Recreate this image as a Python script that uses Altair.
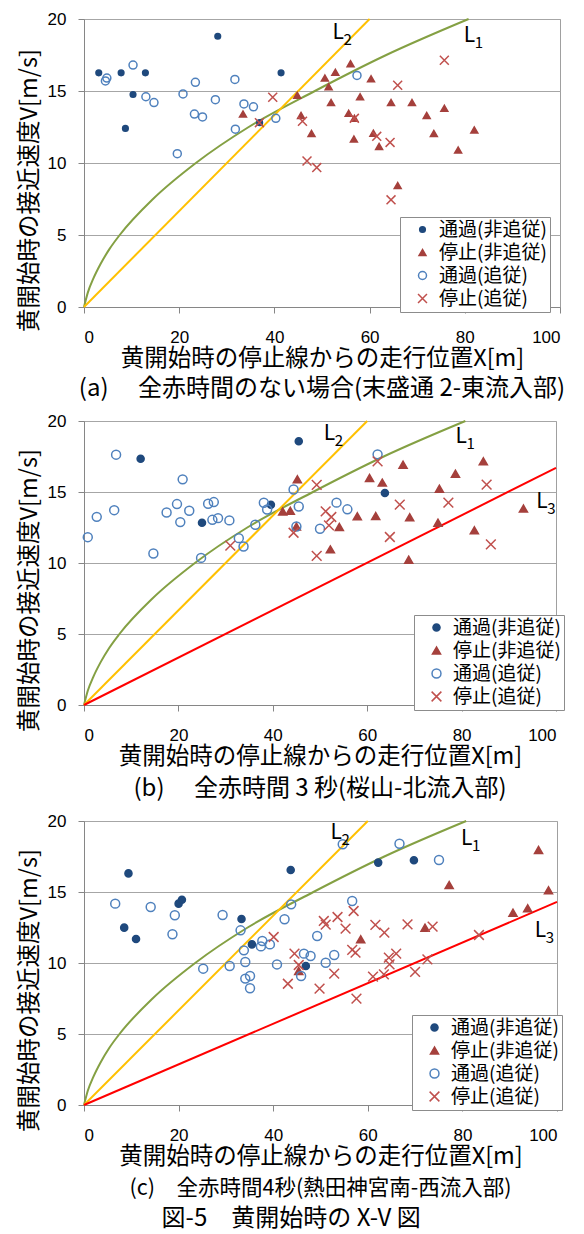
import altair as alt
import pandas as pd

FONT = "Noto Sans CJK JP"
NUM_FONT = "Liberation Sans"
CATS = ["通過(非追従)", "停止(非追従)", "通過(追従)", "停止(追従)"]

# ---------------- Panel (a) ----------------
a_pass_solo_x = [3.1, 7.8, 12.9, 10.3, 8.7, 28.1, 41.4, 36.9]
a_pass_solo_v = [16.26, 16.26, 16.26, 14.76, 12.4, 18.8, 16.26, 12.8]
a_stop_solo_x = [33.4, 44.8, 45.6, 47.8, 56.0, 52.8, 50.6, 51.4, 60.3, 58.0, 51.9, 55.6,
                 56.8, 64.5, 68.9, 72.0, 75.7, 82.0, 73.5, 78.6, 56.7, 60.8, 62.0, 65.9]
a_stop_solo_v = [13.4, 14.7, 13.3, 12.05, 16.9, 16.3, 15.9, 15.3, 15.85, 14.6, 14.2, 13.45,
                 13.1, 14.2, 14.2, 13.3, 13.8, 12.3, 12.05, 10.9, 11.66, 12.07, 11.15, 8.43]
a_pass_follow_x = [4.8, 4.5, 10.3, 13.0, 14.7, 19.6, 20.8, 23.4, 23.2, 24.9, 27.6, 31.7,
                   31.8, 33.6, 35.6, 40.3, 57.35]
a_pass_follow_v = [15.9, 15.7, 16.8, 14.6, 14.2, 10.65, 14.8, 15.6, 13.4, 13.2, 14.4, 15.8,
                   12.35, 14.1, 13.9, 13.1, 16.08]
a_stop_follow_x = [39.65, 36.85, 45.9, 46.85, 48.9, 75.7, 65.9, 56.8, 61.5, 64.3, 64.5]
a_stop_follow_v = [14.57, 12.8, 12.9, 10.14, 9.68, 17.14, 15.4, 13.1, 11.85, 11.43, 7.44]

# ---------------- Panel (b) ----------------
b_pass_solo_x = [12.0, 45.5, 25.0, 39.6, 63.75]
b_pass_solo_v = [17.34, 18.57, 12.83, 14.1, 14.93]
b_stop_solo_x = [45.2, 42.1, 43.7, 45.0, 67.6, 84.6, 78.7, 60.5, 63.2, 75.3, 93.1, 57.9,
                 61.8, 69.0, 75.0, 54.1, 82.7, 52.2, 68.8]
b_stop_solo_v = [15.89, 13.63, 13.68, 12.57, 16.92, 17.16, 16.29, 15.99, 15.66, 15.23, 13.83, 13.29,
                 13.31, 13.22, 12.84, 12.54, 12.3, 10.96, 10.23]
b_pass_follow_x = [6.8, 0.8, 2.7, 6.4, 14.7, 20.9, 17.5, 19.7, 20.4, 22.3, 24.8, 26.3, 27.5, 27.2,
                   28.4, 30.8, 32.8, 33.8, 36.3, 38.1, 38.8, 44.4, 45.5, 45.0, 50.0, 62.2, 53.5, 55.8]
b_pass_follow_v = [17.63, 11.82, 13.25, 13.72, 10.67, 15.89, 13.56, 14.15, 12.88, 13.68, 10.36, 14.17,
                   14.29, 13.04, 13.16, 13.0, 11.75, 11.16, 12.69, 14.24, 13.77, 15.18, 13.98, 12.57,
                   12.41, 17.65, 14.25, 13.78]
b_stop_follow_x = [31.0, 44.4, 49.3, 49.3, 62.2, 85.3, 66.9, 77.2, 51.2, 52.4, 51.9, 64.8, 86.2]
b_stop_follow_v = [11.23, 12.13, 15.5, 10.5, 17.16, 15.52, 14.11, 14.25, 13.64, 13.24, 12.65, 11.83, 11.31]

# ---------------- Panel (c) ----------------
c_pass_solo_x = [9.4, 8.5, 11.0, 20.0, 20.7, 33.3, 35.5, 43.7, 46.9, 62.2, 69.75]
c_pass_solo_v = [16.31, 12.49, 11.69, 14.18, 14.46, 13.1, 11.31, 16.55, 9.79, 17.07, 17.23]
c_stop_solo_x = [96.1, 77.2, 98.2, 90.7, 93.8, 72.1, 58.5, 45.4]
c_stop_solo_v = [17.96, 15.49, 15.12, 13.54, 13.85, 12.49, 11.67, 9.44]
c_pass_follow_x = [6.6, 14.1, 19.2, 18.7, 29.3, 25.2, 30.8, 33.1, 33.8, 34.1, 34.1, 35.1, 35.1, 37.7,
                   37.4, 39.3, 40.8, 42.4, 43.8, 46.5, 47.9, 45.9, 49.3, 51.1, 54.7, 66.7, 75.05,
                   56.7, 52.9]
c_pass_follow_v = [14.18, 13.94, 13.36, 12.02, 13.38, 9.6, 9.79, 12.3, 10.89, 10.07, 8.9, 9.08, 8.22,
                   11.55, 11.17, 11.31, 9.9, 13.08, 14.13, 10.66, 10.49, 9.08, 11.9, 10.02, 18.36,
                   18.4, 17.25, 14.37, 10.56]
c_stop_follow_x = [40.1, 44.5, 45.4, 43.1, 49.8, 50.7, 51.1, 53.6, 57.0, 55.3, 61.6, 63.5, 68.4, 73.7,
                   83.5, 56.7, 57.4, 64.45, 66.0, 64.6, 72.6, 52.9, 61.1, 63.4, 70.0, 57.6]
c_stop_follow_v = [11.83, 10.66, 9.86, 8.54, 8.19, 12.96, 12.7, 13.24, 13.66, 12.42, 12.68, 12.14, 12.72,
                   12.56, 11.97, 10.92, 10.73, 10.38, 10.66, 9.9, 10.26, 9.25, 9.04, 9.2, 9.37, 7.49]

# ---------------- Reference curves ----------------
L1_v = [0, 1, 2, 3, 4, 5, 7.5, 10, 12.5, 15, 17.5, 20]
L1_x = [0, 0.8, 2.0, 3.5, 5.3, 7.5, 14.5, 23.5, 34.6, 48.5, 63.5, 80.8]
L2_x = [0, 60]
L2_v = [0, 20]
L3b_x = [0, 100]
L3b_v = [0, 16.7]
L3c_x = [0, 100]
L3c_v = [0, 14.3]

# label anchors (subscript, X, V) for L1, L2, L3
a_labels = [("1", 79.8, 18.85), ("2", 52.2, 19.03)]
b_labels = [("1", 78.7, 18.87), ("2", 50.8, 19.1), ("3", 95.8, 14.3)]
c_labels = [("1", 79.7, 18.7), ("2", 52.1, 19.17), ("3", 95.3, 12.25)]

captions = ["(a)　 全赤時間のない場合(末盛通 2-東流入部)",
            "(b)　 全赤時間 3 秒(桜山-北流入部)",
            "(c)　全赤時間4秒(熱田神宮南-西流入部)"]
caption_sizes = [24, 24, 21.5]
caption_offsets = [7, 9, 10]
fig_title = "図-5　黄開始時の X-V 図"

COL_GREEN = "#84A043"
COL_YELLOW = "#FFC000"
COL_RED = "#FF0000"
CROSS = "M-1,-1L1,1M-1,1L1,-1"


def make_df(series):
    rows = []
    for cat, (xs, vs) in zip(CATS, series):
        for x, v in zip(xs, vs):
            rows.append({"X": x, "V": v, "cat": cat})
    return pd.DataFrame(rows)


def panel(series, lines, labels, w, h, leg_x, leg_y, sizes, caption, cap_size, cap_off):
    xs = alt.Scale(domain=[0, 100], nice=False)
    ys = alt.Scale(domain=[0, 20], nice=False)
    xaxis = alt.Axis(values=[0, 20, 40, 60, 80, 100], grid=False, tickSize=6, labelPadding=16,
                     title="黄開始時の停止線からの走行位置X[m]", titlePadding=1)
    yaxis = alt.Axis(values=[0, 5, 10, 15, 20], grid=True, tickSize=6, labelPadding=12,
                     title="黄開始時の接近速度V[m/s]", titlePadding=6, titleY=h / 2 + 27)

    layers = []
    first = True
    for lx, lv, col in lines:
        ldf = pd.DataFrame({"X": lx, "V": lv})
        enc_x = alt.X("X:Q", scale=xs, axis=xaxis) if first else alt.X("X:Q", scale=xs)
        enc_y = alt.Y("V:Q", scale=ys, axis=yaxis) if first else alt.Y("V:Q", scale=ys)
        first = False
        layers.append(alt.Chart(ldf).mark_line(color=col, strokeWidth=2, interpolate="monotone")
                      .encode(x=enc_x, y=enc_y))

    df = make_df(series)
    leg = alt.Legend(title=None, orient="none", legendX=leg_x, legendY=leg_y)
    pts = alt.Chart(df).mark_point(opacity=1, strokeWidth=1.5).encode(
        x=alt.X("X:Q", scale=xs),
        y=alt.Y("V:Q", scale=ys),
        shape=alt.Shape("cat:N", scale=alt.Scale(domain=CATS, range=["circle", "triangle-up", "circle", CROSS]), legend=leg),
        fill=alt.Fill("cat:N", scale=alt.Scale(domain=CATS, range=["#1F497D", "#A5403C", "transparent", "transparent"]), legend=leg),
        stroke=alt.Stroke("cat:N", scale=alt.Scale(domain=CATS, range=["#1F497D", "#A5403C", "#4F81BD", "#C0504D"]), legend=leg),
        size=alt.Size("cat:N", scale=alt.Scale(domain=CATS, range=sizes), legend=leg),
        order=alt.Order("ord:Q"),
    ).transform_calculate(ord="indexof(%s, datum.cat)" % str(CATS).replace("'", '"'))
    layers.append(pts)

    ldf = pd.DataFrame([{"sub": s, "X": x, "V": v} for s, x, v in labels])
    lbl = alt.Chart(ldf).mark_text(text="L", align="left", baseline="middle", fontSize=21,
                                   font=FONT, color="black").encode(
        x=alt.X("X:Q", scale=xs), y=alt.Y("V:Q", scale=ys))
    sub = alt.Chart(ldf).mark_text(align="left", baseline="middle", fontSize=15, dx=11, dy=7,
                                   font=FONT, color="black").encode(
        x=alt.X("X:Q", scale=xs), y=alt.Y("V:Q", scale=ys), text="sub:N")
    layers += [lbl, sub]

    return alt.layer(*layers).properties(
        width=w, height=h,
        title=alt.TitleParams(caption, orient="bottom", anchor="middle", fontSize=cap_size,
                              font=FONT, fontWeight="normal", offset=cap_off, color="black"),
    )


pa = panel([(a_pass_solo_x, a_pass_solo_v), (a_stop_solo_x, a_stop_solo_v),
            (a_pass_follow_x, a_pass_follow_v), (a_stop_follow_x, a_stop_follow_v)],
           [(L1_x, L1_v, COL_GREEN), (L2_x, L2_v, COL_YELLOW)],
           a_labels, 476, 288, 316, 198, [32, 80, 30, 60], captions[0],
           caption_sizes[0], caption_offsets[0])
pb = panel([(b_pass_solo_x, b_pass_solo_v), (b_stop_solo_x, b_stop_solo_v),
            (b_pass_follow_x, b_pass_follow_v), (b_stop_follow_x, b_stop_follow_v)],
           [(L1_x, L1_v, COL_GREEN), (L2_x, L2_v, COL_YELLOW), (L3b_x, L3b_v, COL_RED)],
           b_labels, 472, 284, 330, 194, [50, 95, 42, 70], captions[1],
           caption_sizes[1], caption_offsets[1])
pc = panel([(c_pass_solo_x, c_pass_solo_v), (c_stop_solo_x, c_stop_solo_v),
            (c_pass_follow_x, c_pass_follow_v), (c_stop_follow_x, c_stop_follow_v)],
           [(L1_x, L1_v, COL_GREEN), (L2_x, L2_v, COL_YELLOW), (L3c_x, L3c_v, COL_RED)],
           c_labels, 473, 284, 328, 194, [50, 95, 42, 70], captions[2],
           caption_sizes[2], caption_offsets[2])

chart = alt.vconcat(pa, pb, pc, spacing=10).resolve_scale(
    x="independent", y="independent", fill="independent", stroke="independent",
    shape="independent", size="independent"
).resolve_legend(
    fill="independent", stroke="independent", shape="independent", size="independent"
).properties(
    title=alt.TitleParams(fig_title, orient="bottom", anchor="middle", fontSize=24, font=FONT,
                          fontWeight="normal", offset=7, color="black"),
    padding={"left": 8, "top": 1, "right": 0, "bottom": 0},
).configure(font=FONT).configure_view(
    stroke="#A0A0A0", strokeWidth=1
).configure_axis(
    labelFont=NUM_FONT, labelFontSize=17, labelColor="black",
    titleFont=FONT, titleFontSize=23.5, titleFontWeight="normal", titleColor="black",
    domainColor="#868686", tickColor="#868686", gridColor="#A6A6A6", gridWidth=1,
).configure_legend(
    fillColor="white", strokeColor="#8C8C8C", padding=3, labelFont=FONT, labelFontSize=19,
    labelColor="black", rowPadding=3, symbolOffset=10, labelOffset=7, symbolStrokeWidth=1.5,
    cornerRadius=0, labelLimit=300,
)

chart.save("out.html", embed_options={"renderer": "svg", "actions": False})
